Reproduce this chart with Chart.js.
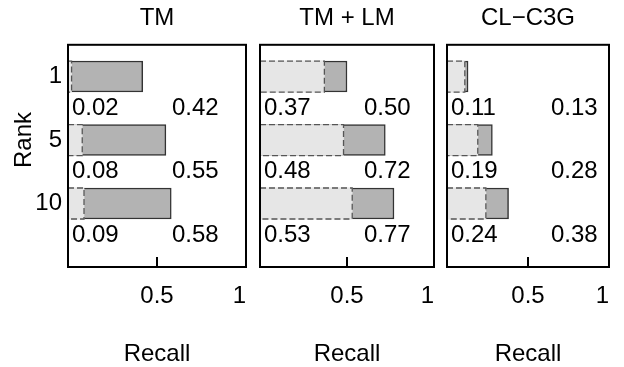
<!DOCTYPE html>
<html>
<head>
<meta charset="utf-8">
<script src="https://cdn.jsdelivr.net/npm/chart.js@4.4.1/dist/chart.umd.min.js"></script>
<style>
  html, body { margin: 0; padding: 0; background: #fff; }
  #wrap { position: relative; width: 624px; height: 367px; }
  #wrap canvas { position: absolute; left: 0; top: 0; }
</style>
</head>
<body>
<div id="wrap">
  <canvas id="tm" width="624" height="367"></canvas>
  <canvas id="tmlm" width="624" height="367"></canvas>
  <canvas id="cl" width="624" height="367"></canvas>
</div>
<script>
const panelTitles = ["TM", "TM + LM", "CL\u2212C3G"];
const rankLabels = ["1", "5", "10"];
const xTickValues = [0, 0.5, 1];
const xTickLabels = ["", "0.5", "1"];

// light dashed bar = first value, dark bar = second value
const tmFirst = [0.02, 0.08, 0.09];
const tmAll = [0.42, 0.55, 0.58];
const tmlmFirst = [0.37, 0.48, 0.53];
const tmlmAll = [0.50, 0.72, 0.77];
const clFirst = [0.11, 0.19, 0.24];
const clAll = [0.13, 0.28, 0.38];

Chart.defaults.font.family = "'Liberation Sans', Arial, Helvetica, sans-serif";
Chart.defaults.font.size = 24;
Chart.defaults.color = "#000";

// frame, inner tick, dashed outlines and the number labels
const panelDeco = {
  id: "panelDeco",
  afterDatasetsDraw(chart, args, opts) {
    const ctx = chart.ctx;
    const area = chart.chartArea;
    const xs = chart.scales.x;
    const ys = chart.scales.y;
    ctx.save();

    ctx.strokeStyle = "#555";
    ctx.lineWidth = 1.3;
    ctx.setLineDash([6, 3]);
    chart.getDatasetMeta(0).data.forEach(bar => {
      const p = bar.getProps(["x", "y", "base", "height"], true);
      ctx.strokeRect(p.base, p.y - p.height / 2, p.x - p.base, p.height);
    });
    ctx.setLineDash([]);

    ctx.strokeStyle = "#000";
    ctx.lineWidth = 2;
    ctx.strokeRect(area.left, area.top, area.right - area.left, area.bottom - area.top);

    const tx = xs.getPixelForValue(0.5);
    ctx.beginPath();
    ctx.moveTo(tx, area.bottom);
    ctx.lineTo(tx, area.bottom - 10);
    ctx.stroke();

    ctx.fillStyle = "#000";
    ctx.font = "24px 'Liberation Sans', Arial, sans-serif";
    ctx.textBaseline = "middle";
    ctx.textAlign = "left";
    const first = chart.data.datasets[0].data;
    const all = chart.data.datasets[1].data;
    first.forEach((pt, i) => {
      const y = ys.getPixelForValue(i + 0.5);
      ctx.fillText(pt.x.toFixed(2), area.left + 4, y);
      ctx.fillText(all[i].x.toFixed(2), area.left + 104, y);
    });

    if (opts.rankTitle) {
      ctx.translate(24, ys.getPixelForValue(1));
      ctx.rotate(-Math.PI / 2);
      ctx.textAlign = "center";
      ctx.fillText(opts.rankTitle, 0, 0);
    }
    ctx.restore();
  }
};

function makePanel(id, title, first, all, padLeft, padRight, showY) {
  const yScale = {
    type: "linear",
    min: -0.5,
    max: 3,
    reverse: true,
    offset: false,
    display: showY,
    grid: { display: false, drawTicks: false, offset: false },
    border: { display: false },
    afterBuildTicks: s => { s.ticks = rankLabels.map((l, i) => ({ value: i })); },
    ticks: { padding: 6, callback: (v, i) => rankLabels[i] }
  };
  if (showY) yScale.afterFit = s => { s.width = 68; };

  return new Chart(document.getElementById(id), {
    type: "bar",
    data: {
      datasets: [
        {
          data: first.map((v, i) => ({ x: v, y: i })),
          backgroundColor: "#e6e6e6",
          borderWidth: 0,
          order: 0
        },
        {
          data: all.map((v, i) => ({ x: v, y: i })),
          backgroundColor: "#b3b3b3",
          borderColor: "#333",
          borderWidth: 1.5,
          order: 1
        }
      ]
    },
    options: {
      indexAxis: "y",
      responsive: false,
      animation: false,
      datasets: { bar: { grouped: false, barThickness: 31 } },
      layout: { padding: { left: padLeft, right: padRight, top: 0, bottom: 0 } },
      scales: {
        x: {
          type: "linear",
          min: 0,
          max: 1,
          grid: { display: false, drawTicks: false },
          border: { display: false },
          afterBuildTicks: s => { s.ticks = xTickValues.map(v => ({ value: v })); },
          ticks: { autoSkip: false, maxRotation: 0, align: "inner", padding: 15, callback: (v, i) => xTickLabels[i] },
          title: { display: true, text: "Recall", padding: { top: 0, bottom: -2 } },
          afterFit: s => { s.height = 100; }
        },
        y: yScale
      },
      plugins: {
        legend: { display: false },
        tooltip: { enabled: false },
        title: {
          display: true,
          text: title,
          fullSize: false,
          font: { size: 24, weight: "normal" },
          padding: { top: 4, bottom: 12 }
        },
        panelDeco: { rankTitle: showY ? "Rank" : null }
      }
    },
    plugins: [panelDeco]
  });
}

makePanel("tm", panelTitles[0], tmFirst, tmAll, 0, 378, true);
makePanel("tmlm", panelTitles[1], tmlmFirst, tmlmAll, 260, 190, false);
makePanel("cl", panelTitles[2], clFirst, clAll, 447, 1, false);
</script>
</body>
</html>
